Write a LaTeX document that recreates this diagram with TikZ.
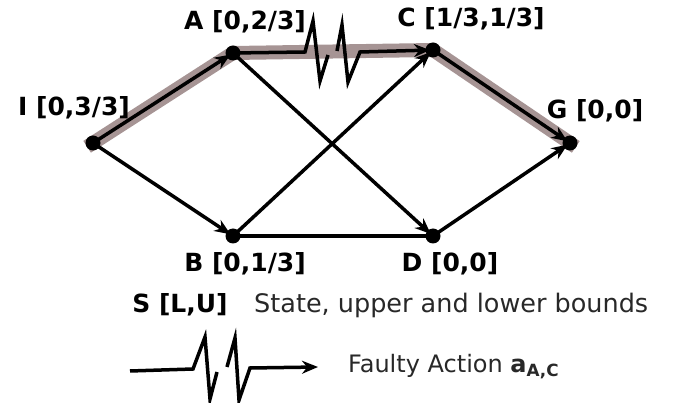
\documentclass[tikz,border=0pt]{standalone}
\usepackage{fontspec}
\setmainfont{DejaVu Sans}
\usetikzlibrary{arrows.meta}
\definecolor{hl}{RGB}{166,148,148}
\definecolor{txt}{RGB}{40,40,40}
\begin{document}
\begin{tikzpicture}[x=1pt,y=-1pt,
  dot/.style={circle,fill=black,inner sep=0pt,minimum size=15pt},
  edge/.style={line width=3.5pt,shorten >=3pt,-{Stealth[length=16pt,width=13pt]}},
  plain/.style={line width=3.5pt},
  lbl/.style={font=\bfseries\fontsize{25}{29}\selectfont,inner sep=0pt},
  leg/.style={font=\fontsize{25.5}{29}\selectfont,inner sep=0pt,anchor=west,text=txt}]
\useasboundingbox (0,0) rectangle (678,403);
\coordinate (pI) at (93,143);
\coordinate (pA) at (233,53);
\coordinate (pC) at (433,50);
\coordinate (pG) at (570,143);
\coordinate (pB) at (233,236);
\coordinate (pD) at (433,236);
% highlighted path
\draw[hl,line width=14pt,line cap=rect,line join=miter] (pI) -- (pA) -- (pC) -- (pG);
% nodes
\node[dot] (I) at (pI) {};
\node[dot] (A) at (pA) {};
\node[dot] (C) at (pC) {};
\node[dot] (G) at (pG) {};
\node[dot] (B) at (pB) {};
\node[dot] (D) at (pD) {};
% edges
\draw[edge] (I.center) -- (A.center);
\draw[edge] (I.center) -- (B.center);
\draw[edge] (A.center) -- (D.center);
\draw[edge] (B.center) -- (C.center);
\draw[plain] (B.center) -- (D.center);
\draw[edge] (D.center) -- (G.center);
\draw[edge] (C.center) -- (G.center);
% faulty action A -> C
\draw[plain,line join=miter] (A.center) -- (305,52) -- (313,21) -- (320,81) -- (328,55);
\draw[edge,line join=miter] (337,51) -- (342,25) -- (348,82) -- (360,52) -- (C.center);
% labels
\node[lbl] (lI) at (74,108) {I [0,3/3]};
\node[lbl] (lA) at (245,22) {A [0,2/3]};
\node[lbl] (lC) at (471,19) {C [1/3,1/3]};
\node[lbl] (lG) at (595,111) {G [0,0]};
\node[lbl] (lB) at (245,264) {B [0,1/3]};
\node[lbl] (lD) at (450,264) {D [0,0]};
% legend
\node[lbl] (lS) at (180,305) {S [L,U]};
\node[leg] (tS) at (254,305) {State, upper and lower bounds};
\coordinate (f0) at (130,371);
\coordinate (f1) at (318,367);
\draw[plain,line join=miter] (f0) -- (193,369) -- (205,337) -- (210,399) -- (217,372);
\draw[edge,shorten >=0pt,line join=miter] (227,367) -- (235,338) -- (239,400) -- (250,368) -- (f1);
\node[leg,font=\fontsize{24}{28}\selectfont] (tF) at (348,367) {Faulty Action \textbf{a}\textsubscript{\textbf{A,C}}};
\end{tikzpicture}
\end{document}
